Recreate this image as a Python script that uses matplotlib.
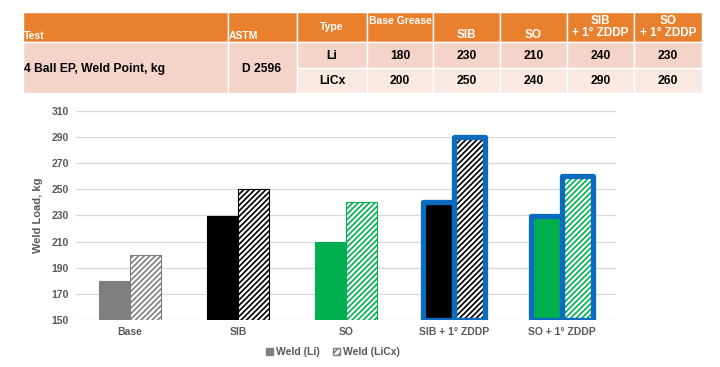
import matplotlib.pyplot as plt
import matplotlib.patches as mpatches
import numpy as np

plt.rcParams['font.family'] = ['Liberation Sans', 'DejaVu Sans']
plt.rcParams['hatch.linewidth'] = 1.2

# Chart data
groups = ['Base', 'SIB', 'SO', 'SIB + 1° ZDDP', 'SO + 1° ZDDP']
weld_li = [180, 230, 210, 240, 230]
weld_licx = [200, 250, 240, 290, 260]
bar_colors = ['#7F7F7F', '#000000', '#00B050', '#000000', '#00B050']
zddp = [False, False, False, True, True]

# Table text
header = ['Test', 'ASTM', 'Type', 'Base Grease', 'SIB', 'SO',
          'SIB\n+ 1° ZDDP', 'SO\n+ 1° ZDDP']
test_name = '4 Ball EP, Weld Point, kg'
astm = 'D 2596'
types = ['Li', 'LiCx']
table_vals = [[180, 230, 210, 240, 230],
              [200, 250, 240, 290, 260]]

W, H = 720, 367
fig = plt.figure(figsize=(7.2, 3.67), dpi=100)
fig.patch.set_facecolor('white')


def fx(x):
    return x / W


def fy(y):
    return 1 - y / H


def cell(x0, x1, y0, y1, color):
    fig.patches.append(mpatches.Rectangle((fx(x0), fy(y1)), fx(x1) - fx(x0),
                                          fy(y0) - fy(y1), transform=fig.transFigure,
                                          facecolor=color, edgecolor='white',
                                          linewidth=1.0, zorder=0))


# ---- table ----
cols = [23, 228, 297, 367, 433, 500, 567, 634, 702]
orange = '#E8802E'
dark = '#F4D4C9'
light = '#FAE8E2'
y_top, y_head, y_mid, y_bot = 12, 42, 68, 93

for i in range(8):
    cell(cols[i], cols[i + 1], y_top, y_head, orange)
cell(cols[0], cols[1], y_head, y_bot, dark)
cell(cols[1], cols[2], y_head, y_bot, dark)
for i in range(2, 8):
    cell(cols[i], cols[i + 1], y_head, y_mid, dark)
    cell(cols[i], cols[i + 1], y_mid, y_bot, light)

hkw = dict(color='white', fontweight='bold', fontsize=7.5)
fig.text(fx(24), fy(41), header[0], ha='left', va='bottom', **hkw)
fig.text(fx(229), fy(41), header[1], ha='left', va='bottom', **hkw)
fig.text(fx(332), fy(27), header[2], ha='center', va='center', **hkw)
fig.text(fx(400), fy(21), header[3], ha='center', va='center', **hkw)
for i in (4, 5):
    fig.text(fx((cols[i] + cols[i + 1]) / 2), fy(41), header[i],
             ha='center', va='bottom', fontsize=8.5, color='white',
             fontweight='bold')
for i in (6, 7):
    fig.text(fx((cols[i] + cols[i + 1]) / 2), fy(27), header[i],
             ha='center', va='center', linespacing=1.0, color='white',
             fontweight='bold', fontsize=8.5)

bkw = dict(color='black', fontweight='bold', fontsize=8.7)
fig.text(fx(24), fy(69), test_name, ha='left', va='center', **bkw)
fig.text(fx(262), fy(69), astm, ha='center', va='center', **bkw)
for r, (t, row) in enumerate(zip(types, table_vals)):
    yc = 56 if r == 0 else 81
    fig.text(fx(332), fy(yc), t, ha='center', va='center', **bkw)
    for j, v in enumerate(row):
        fig.text(fx((cols[j + 3] + cols[j + 4]) / 2), fy(yc), str(v),
                 ha='center', va='center', **bkw)

# ---- bar chart ----
ax = fig.add_axes([fx(76), fy(320), fx(616) - fx(76), fy(111) - fy(320)])
x = np.arange(len(groups))
bw = 0.285
base = 150

for i in range(len(groups)):
    c = bar_colors[i]
    ax.bar(x[i] - bw / 2, weld_li[i] - base, bw, bottom=base, color=c,
           edgecolor=c, linewidth=0.8, zorder=2)
    ax.bar(x[i] + bw / 2, weld_licx[i] - base, bw, bottom=base, color='white',
           edgecolor=c, hatch='//////', linewidth=0.8, zorder=2)
    if zddp[i]:
        for xx, v in ((x[i] - bw / 2, weld_li[i]), (x[i] + bw / 2, weld_licx[i])):
            ax.bar(xx, v - base, bw, bottom=base, fill=False,
                   edgecolor='#0B6BBF', linewidth=3.8, joinstyle='round',
                   zorder=3)

ax.set_xlim(-0.5, len(groups) - 0.5)
ax.set_ylim(150, 310)
ax.set_yticks(np.arange(150, 311, 20))
ax.set_xticks(x)
ax.set_xticklabels(groups)
ax.tick_params(length=0, labelsize=7.5, labelcolor='#595959', pad=5)
for lab in ax.get_xticklabels() + ax.get_yticklabels():
    lab.set_fontweight('bold')
ax.yaxis.grid(True, color='#D9D9D9', linewidth=0.9, zorder=0)
ax.set_axisbelow(True)
for s in ax.spines.values():
    s.set_visible(False)
ax.set_ylabel('Weld Load, kg', fontsize=8, color='#595959', fontweight='bold',
              labelpad=6)

h1 = mpatches.Patch(facecolor='#7F7F7F', edgecolor='#7F7F7F')
h2 = mpatches.Patch(facecolor='white', edgecolor='#7F7F7F', hatch='/////')
fig.legend([h1, h2], ['Weld (Li)', 'Weld (LiCx)'], loc='center',
           bbox_to_anchor=(fx(333), fy(352)), ncol=2, frameon=False,
           handlelength=0.7, handleheight=0.7, handletextpad=0.3,
           columnspacing=1.2, labelcolor='#595959',
           prop={'weight': 'bold', 'size': 7.5})

fig.savefig('out.png', dpi=100)
